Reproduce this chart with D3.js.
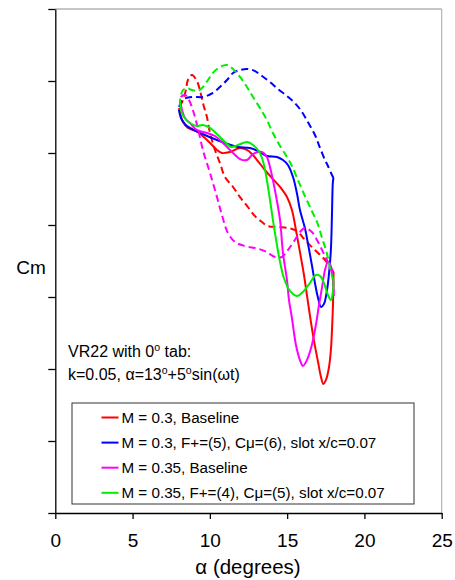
<!DOCTYPE html>
<html>
<head>
<meta charset="utf-8">
<script src="https://cdn.jsdelivr.net/npm/d3@7"></script>
<style>
  html, body { margin: 0; padding: 0; background: #fff; }
  svg { display: block; font-family: "Liberation Sans", Arial, Helvetica, sans-serif; }
</style>
</head>
<body>
<svg id="chart" width="455" height="580"></svg>
<script>
// Pitching-airfoil moment hysteresis loops: [alpha (deg), Cm]
// "up" = upstroke (solid), "down" = downstroke (dashed)
const redUp = [
  [8.00,-0.0188],[8.26,-0.0285],[8.58,-0.0326],[9.22,-0.0354],[9.68,-0.0396],[10.14,-0.0444],
  [10.46,-0.0479],[10.78,-0.0500],[11.30,-0.0493],[11.95,-0.0465],[12.40,-0.0479],[12.72,-0.0507],
  [13.11,-0.0556],[13.56,-0.0618],[14.02,-0.0674],[14.54,-0.0736],[14.99,-0.0806],[15.31,-0.0896],
  [15.57,-0.1035],[15.83,-0.1188],[16.09,-0.1347],[16.28,-0.1486],[16.47,-0.1625],[16.73,-0.1799],
  [17.00,-0.1951],[17.19,-0.2056],[17.35,-0.2104],[17.51,-0.2076],[17.70,-0.1993],[17.83,-0.1868],
  [17.93,-0.1660],[17.99,-0.1451],[18.00,-0.1326]
];
const redDown = [
  [18.00,-0.1326],[17.83,-0.1299],[17.45,-0.1243],[17.00,-0.1194],[16.60,-0.1153],[16.15,-0.1104],
  [15.83,-0.1063],[15.50,-0.1035],[15.05,-0.1021],[14.40,-0.1014],[13.75,-0.1007],[13.37,-0.0979],
  [12.92,-0.0938],[12.46,-0.0875],[11.95,-0.0806],[11.50,-0.0736],[10.98,-0.0667],[10.65,-0.0569],
  [10.33,-0.0479],[10.01,-0.0361],[9.81,-0.0250],[9.55,-0.0153],[9.36,-0.0063],[9.16,0.0000],
  [8.84,0.0042],[8.58,0.0007],[8.45,-0.0063],[8.26,-0.0132],[8.07,-0.0174],[8.00,-0.0188]
];
const blueUp = [
  [8.00,-0.0201],[8.13,-0.0257],[8.39,-0.0299],[8.71,-0.0326],[9.22,-0.0354],[9.68,-0.0375],
  [10.14,-0.0396],[10.98,-0.0431],[11.82,-0.0458],[12.59,-0.0465],[13.24,-0.0493],[13.69,-0.0521],
  [14.34,-0.0528],[14.73,-0.0549],[15.05,-0.0583],[15.38,-0.0667],[15.63,-0.0778],[15.83,-0.0896],
  [16.15,-0.1021],[16.34,-0.1125],[16.60,-0.1278],[16.80,-0.1403],[17.00,-0.1507],[17.19,-0.1569],
  [17.38,-0.1549],[17.58,-0.1451],[17.70,-0.1347],[17.83,-0.1174],[17.90,-0.0931],[17.96,-0.0701],
  [18.00,-0.0674]
];
const blueDown = [
  [18.00,-0.0674],[17.90,-0.0653],[17.64,-0.0590],[17.45,-0.0549],[17.13,-0.0465],[16.80,-0.0375],
  [16.34,-0.0285],[15.96,-0.0215],[15.50,-0.0153],[14.99,-0.0104],[14.40,-0.0056],[13.89,-0.0007],
  [13.37,0.0035],[12.92,0.0069],[12.46,0.0083],[11.95,0.0076],[11.50,0.0056],[11.11,0.0007],
  [10.65,-0.0042],[10.20,-0.0083],[9.55,-0.0111],[8.90,-0.0111],[8.32,-0.0125],[8.07,-0.0160],
  [8.00,-0.0201]
];
const magentaUp = [
  [8.07,-0.0132],[8.20,-0.0201],[8.39,-0.0257],[8.71,-0.0292],[9.16,-0.0340],[9.81,-0.0361],
  [10.33,-0.0382],[10.85,-0.0431],[11.50,-0.0500],[11.95,-0.0542],[12.40,-0.0549],[12.79,-0.0507],
  [13.37,-0.0493],[13.69,-0.0528],[13.89,-0.0597],[14.08,-0.0688],[14.27,-0.0792],[14.54,-0.0965],
  [14.73,-0.1194],[14.99,-0.1382],[15.12,-0.1521],[15.31,-0.1646],[15.57,-0.1833],[15.83,-0.1938],
  [16.02,-0.1979],[16.28,-0.1938],[16.60,-0.1833],[16.86,-0.1694],[17.06,-0.1556],[17.26,-0.1431],
  [17.45,-0.1313],[17.64,-0.1257],[17.83,-0.1285],[17.96,-0.1382],[18.00,-0.1493]
];
const magentaDown = [
  [18.00,-0.1493],[17.96,-0.1368],[17.77,-0.1285],[17.51,-0.1229],[17.26,-0.1174],[16.93,-0.1104],
  [16.60,-0.1049],[16.15,-0.1021],[15.83,-0.1049],[15.50,-0.1104],[15.05,-0.1174],[14.66,-0.1222],
  [14.21,-0.1222],[13.56,-0.1181],[12.92,-0.1160],[12.27,-0.1146],[11.63,-0.1118],[11.17,-0.1056],
  [10.78,-0.0931],[10.46,-0.0806],[10.01,-0.0639],[9.55,-0.0479],[9.22,-0.0326],[8.90,-0.0201],
  [8.65,-0.0132],[8.39,-0.0097],[8.13,-0.0111],[8.07,-0.0132]
];
const greenUp = [
  [8.07,-0.0132],[8.13,-0.0201],[8.32,-0.0250],[8.71,-0.0292],[9.16,-0.0313],[9.55,-0.0306],
  [10.01,-0.0326],[10.52,-0.0375],[10.98,-0.0424],[11.37,-0.0458],[11.82,-0.0444],[12.40,-0.0424],
  [12.79,-0.0444],[13.24,-0.0500],[13.50,-0.0583],[13.69,-0.0688],[13.89,-0.0826],[14.08,-0.0965],
  [14.34,-0.1139],[14.54,-0.1257],[14.79,-0.1368],[15.18,-0.1458],[15.63,-0.1493],[16.02,-0.1465],
  [16.47,-0.1403],[16.86,-0.1347],[17.13,-0.1354],[17.38,-0.1403],[17.64,-0.1486],[17.83,-0.1521],
  [17.96,-0.1465],[18.00,-0.1382]
];
const greenDown = [
  [18.00,-0.1382],[17.83,-0.1326],[17.58,-0.1201],[17.26,-0.1090],[16.93,-0.0979],[16.60,-0.0903],
  [16.15,-0.0799],[15.70,-0.0688],[15.31,-0.0590],[14.99,-0.0528],[14.54,-0.0451],[14.08,-0.0361],
  [13.69,-0.0271],[13.24,-0.0188],[12.79,-0.0111],[12.40,-0.0042],[11.95,0.0028],[11.50,0.0083],
  [11.11,0.0111],[10.65,0.0097],[10.20,0.0056],[9.88,0.0007],[9.55,-0.0042],[9.22,-0.0069],
  [8.84,-0.0063],[8.52,-0.0049],[8.26,-0.0063],[8.13,-0.0097],[8.07,-0.0132]
];

const xTicks = [0, 5, 10, 15, 20, 25];
const yTicks = [-0.30, -0.25, -0.20, -0.15, -0.10, -0.05, 0.00, 0.05];

const legendLabels = [
  "M = 0.3, Baseline",
  "M = 0.3, F+=(5), Cμ=(6), slot x/c=0.07",
  "M = 0.35, Baseline",
  "M = 0.35, F+=(4), Cμ=(5), slot x/c=0.07"
];
const seriesColors = ["#ff0000", "#0000ff", "#ff00ff", "#00ee00"];
const upstrokes = [redUp, blueUp, magentaUp, greenUp];
const downstrokes = [redDown, blueDown, magentaDown, greenDown];

// ---- layout ----
const svg = d3.select("#chart");
const plotL = 55.3, plotR = 441.7, plotT = 9, plotB = 513;

const x = d3.scaleLinear().domain([0, 25]).range([plotL, plotR]);
const y = d3.scaleLinear().domain([-0.30, 0.05]).range([plotB, plotT]);

// plot frame: light top/right border
svg.append("line").attr("x1", plotL).attr("x2", plotR).attr("y1", plotT).attr("y2", plotT)
  .attr("stroke", "#8c8c8c").attr("stroke-width", 1);
svg.append("line").attr("x1", plotR).attr("x2", plotR).attr("y1", plotT).attr("y2", plotB)
  .attr("stroke", "#b4b4b4").attr("stroke-width", 1.2);

const line = d3.line()
  .x(d => x(d[0]))
  .y(d => y(d[1]))
  .curve(d3.curveCatmullRom.alpha(0.5));

const curves = svg.append("g").attr("fill", "none");
seriesColors.forEach((c, i) => {
  curves.append("path").attr("d", line(downstrokes[i]))
    .attr("stroke", c).attr("stroke-width", 2).attr("stroke-dasharray", "7,4");
  curves.append("path").attr("d", line(upstrokes[i]))
    .attr("stroke", c).attr("stroke-width", 2);
});

// axes
const xAxis = svg.append("g").attr("transform", `translate(0,${plotB})`)
  .call(d3.axisBottom(x).tickValues(xTicks).tickSize(6).tickSizeOuter(0).tickPadding(15));
xAxis.select(".domain").attr("stroke", "#000").attr("stroke-width", 1.3);
xAxis.selectAll(".tick line").attr("stroke", "#000").attr("stroke-width", 1.3);
xAxis.selectAll(".tick text").attr("font-size", 19).attr("fill", "#000")
  .attr("font-family", "Liberation Sans, Arial, sans-serif");

const yAxis = svg.append("g").attr("transform", `translate(${plotL},0)`)
  .call(d3.axisLeft(y).tickValues(yTicks).tickSize(7).tickSizeOuter(0).tickFormat(""));
yAxis.select(".domain").attr("stroke", "#000").attr("stroke-width", 1.3);
yAxis.selectAll(".tick line").attr("stroke", "#000").attr("stroke-width", 1.3);

// axis titles
svg.append("text").attr("x", 248).attr("y", 574).attr("text-anchor", "middle")
  .attr("font-size", 20.5).text("α (degrees)");
svg.append("text").attr("x", 31).attr("y", 274).attr("text-anchor", "middle")
  .attr("font-size", 19).text("Cm");

// annotation
const note = svg.append("g").attr("font-size", 16);
const t1 = note.append("text").attr("x", 68).attr("y", 357);
t1.append("tspan").text("VR22 with 0");
t1.append("tspan").attr("font-size", 10.5).attr("dy", -6).text("o");
t1.append("tspan").attr("dy", 6).text(" tab:");
const t2 = note.append("text").attr("x", 68).attr("y", 380);
t2.append("tspan").text("k=0.05, α=13");
t2.append("tspan").attr("font-size", 10.5).attr("dy", -6).text("o");
t2.append("tspan").attr("dy", 6).text("+5");
t2.append("tspan").attr("font-size", 10.5).attr("dy", -6).text("o");
t2.append("tspan").attr("dy", 6).text("sin(ωt)");

// legend
const lg = svg.append("g");
lg.append("rect").attr("x", 72).attr("y", 403).attr("width", 342).attr("height", 101)
  .attr("fill", "#fff").attr("stroke", "#333").attr("stroke-width", 1);
legendLabels.forEach((lab, i) => {
  const yy = 417.5 + i * 25.1;
  lg.append("line").attr("x1", 101.5).attr("x2", 118.5).attr("y1", yy).attr("y2", yy)
    .attr("stroke", seriesColors[i]).attr("stroke-width", 2);
  lg.append("text").attr("x", 121.5).attr("y", yy + 5.5).attr("font-size", 15.2).text(lab);
});
</script>
</body>
</html>
